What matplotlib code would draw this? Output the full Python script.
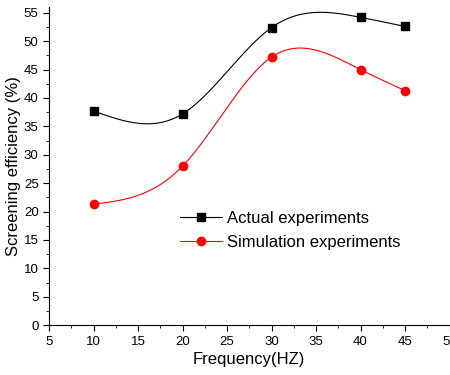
import numpy as np
import matplotlib.pyplot as plt
from matplotlib.ticker import MultipleLocator

plt.rcParams['font.family'] = ['Liberation Sans', 'DejaVu Sans']

freq = [10, 20, 30, 40, 45]
actual = [37.7, 37.2, 52.4, 54.2, 52.6]
simulation = [21.3, 28.0, 47.2, 45.0, 41.3]


def natural_spline(x, y, n=200):
    # natural cubic spline through the points
    x = np.asarray(x, float)
    y = np.asarray(y, float)
    k = len(x)
    h = np.diff(x)
    A = np.zeros((k, k))
    b = np.zeros(k)
    A[0, 0] = A[-1, -1] = 1
    for i in range(1, k - 1):
        A[i, i - 1] = h[i - 1]
        A[i, i] = 2 * (h[i - 1] + h[i])
        A[i, i + 1] = h[i]
        b[i] = 6 * ((y[i + 1] - y[i]) / h[i] - (y[i] - y[i - 1]) / h[i - 1])
    M = np.linalg.solve(A, b)
    xs = np.linspace(x[0], x[-1], n)
    idx = np.clip(np.searchsorted(x, xs) - 1, 0, k - 2)
    x0, x1 = x[idx], x[idx + 1]
    hh = x1 - x0
    t0, t1 = x1 - xs, xs - x0
    ys = (M[idx] * t0**3 + M[idx + 1] * t1**3) / (6 * hh) \
        + (y[idx] / hh - M[idx] * hh / 6) * t0 \
        + (y[idx + 1] / hh - M[idx + 1] * hh / 6) * t1
    return xs, ys


fig = plt.figure(figsize=(4.5, 3.75), dpi=100)
ax = fig.add_axes([0.109, 0.133, 0.89, 0.848])

xs, ys = natural_spline(freq, actual)
ax.plot(xs, ys, color='black', lw=0.8)
ax.plot(freq, actual, 's', color='black', ms=5.5)
xs, ys = natural_spline(freq, simulation)
ax.plot(xs, ys, color='red', lw=0.8)
ax.plot(freq, simulation, 'o', color='red', ms=6)

# legend proxies
ax.plot([], [], '-s', color='black', lw=0.8, ms=5.5, label='Actual experiments')
ax.plot([], [], '-o', color='red', lw=0.8, ms=6, label='Simulation experiments')
ax.legend(loc='upper left', bbox_to_anchor=(0.327, 0.36), frameon=False,
          fontsize=12, handlelength=2.5, handletextpad=0.3,
          labelspacing=0.55, borderpad=0, borderaxespad=0)

ax.set_xlim(5, 50)
ax.set_ylim(0, 56)
ax.xaxis.set_major_locator(MultipleLocator(5))
ax.xaxis.set_minor_locator(MultipleLocator(2.5))
ax.yaxis.set_major_locator(MultipleLocator(5))
ax.yaxis.set_minor_locator(MultipleLocator(2.5))
ax.tick_params(which='major', direction='out', length=4, labelsize=9.5)
ax.tick_params(which='minor', direction='out', length=2.5)
ax.spines['top'].set_visible(False)
ax.spines['right'].set_visible(False)
ax.set_xlabel('Frequency(HZ)', fontsize=12, labelpad=3)
ax.set_ylabel('Screening efficiency (%)', fontsize=12, labelpad=2)

fig.savefig('out.png', dpi=100)
